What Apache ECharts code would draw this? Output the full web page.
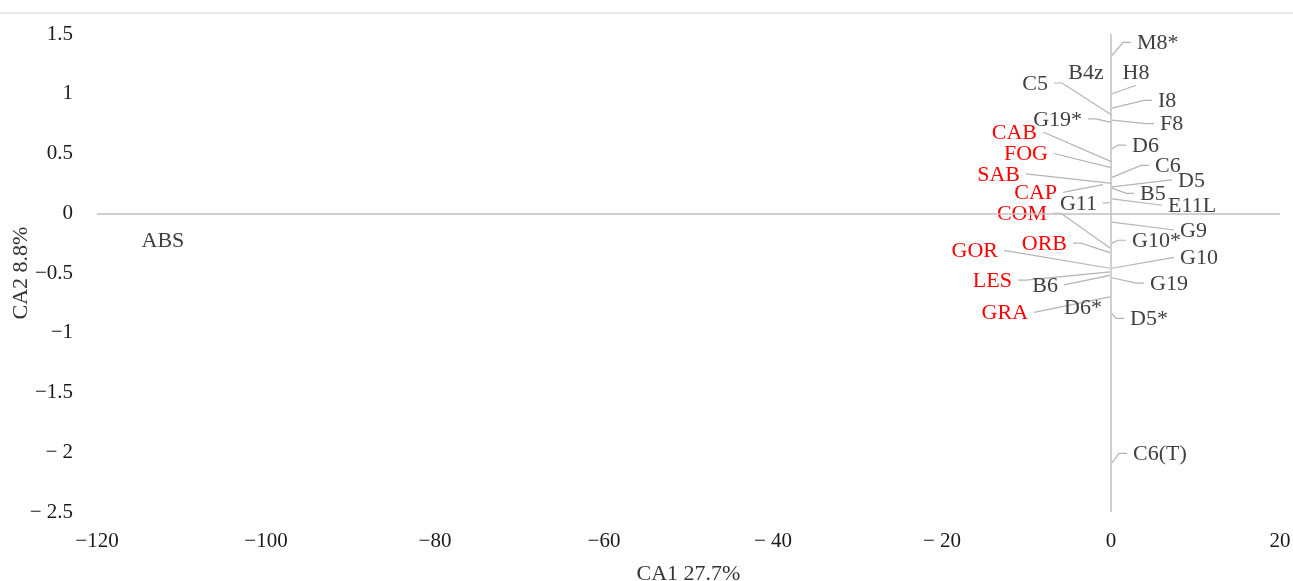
<!DOCTYPE html>
<html>
<head>
<meta charset="utf-8">
<script src="https://cdn.jsdelivr.net/npm/echarts@6/dist/echarts.min.js"></script>
<style>
  html, body { margin: 0; padding: 0; background: #fff; }
  #main { width: 1293px; height: 581px; }
</style>
</head>
<body>
<div id="main"></div>
<script>
// point names + CA scores
var names = ['M8*', 'H8', 'B4z', 'C5', 'I8', 'G19*', 'F8', 'CAB', 'D6', 'FOG', 'C6', 'SAB', 'D5', 'CAP', 'B5', 'E11L',
  'G11', 'COM', 'G9', 'G10*', 'ORB', 'GOR', 'G10', 'LES', 'B6', 'G19', 'GRA', 'D6*', 'D5*', 'C6(T)', 'ABS'];
var ca1 = [0.12, 0.12, -1.0, 0.12, 0.12, 0.0, 0.12, 0.12, 0.12, 0.12, 0.12, 0.12, 0.12, -0.95, 0.12, 0.12,
  -0.12, -0.12, 0.12, 0.12, -0.12, -0.12, 0.12, -0.12, -0.12, 0.12, -0.12, -0.5, 0.12, 0.12, -112];
var ca2 = [1.32, 1.00, 1.10, 0.82, 0.88, 0.76, 0.78, 0.43, 0.54, 0.38, 0.30, 0.25, 0.22, 0.24, 0.21, 0.12,
  0.09, -0.29, -0.075, -0.25, -0.33, -0.46, -0.46, -0.49, -0.52, -0.54, -0.70, -0.78, -0.84, -2.09, -0.2];
// species codes are drawn in red
var redNames = ['CAB', 'FOG', 'SAB', 'CAP', 'COM', 'ORB', 'GOR', 'LES', 'GRA'];

var xTickLabels = ['−120', '−100', '−80', '−60', '− 40', '− 20', '0', '20'];
var yTickLabels = ['− 2.5', '− 2', '−1.5', '−1', '−0.5', '0', '0.5', '1', '1.5'];

// where the data labels sit (axis units) and which side the leader joins
var labelX = [3.08, 2.96, -2.96, -7.46, 5.56, -3.43, 5.80, -8.76, 2.49, -7.46, 5.21, -10.77, 7.93, -6.39, 3.43, 6.75,
  -1.66, -7.57, 8.17, 2.49, -5.21, -13.37, 8.17, -11.72, -6.27, 4.62, -9.82, -3.31, 2.25, 2.60, -112.2];
var labelY = [1.43, 1.18, 1.18, 1.09, 0.945, 0.79, 0.75, 0.68, 0.57, 0.50, 0.40, 0.33, 0.28, 0.175, 0.167, 0.067,
  0.084, 0.0, -0.14, -0.226, -0.25, -0.31, -0.37, -0.56, -0.60, -0.585, -0.83, -0.79, -0.88, -2.01, -0.226];
var labelSide = ['r', 'b', 'n', 'l', 'r', 'l', 'r', 'ls', 'r', 'ls', 'r', 'ls', 'rs', 'ls', 'r', 'rs',
  'ls', 'l', 'rs', 'r', 'l', 'ls', 'rs', 'l', 'ls', 'r', 'ls', 'n', 'r', 'r', 'n'];

var seriesData = names.map(function (n, i) {
  return [ca1[i], ca2[i], labelX[i], labelY[i]];
});

var myChart = echarts.init(document.getElementById('main'));

myChart.setOption({
  animation: false,
  backgroundColor: '#fff',
  grid: {
    left: 97,
    right: 13,
    top: 34,
    bottom: 69,
    outerBoundsMode: 'none'
  },
  graphic: [{
    type: 'line',
    shape: { x1: 0, y1: 13, x2: 1293, y2: 13 },
    style: { stroke: '#e8e8e8', lineWidth: 2 }
  }],
  xAxis: {
    type: 'value',
    min: -120,
    max: 20,
    interval: 20,
    name: 'CA1 27.7%',
    nameLocation: 'middle',
    nameGap: 51,
    nameMoveOverlap: false,
    nameTextStyle: { fontFamily: 'Liberation Serif', fontSize: 22, color: '#333' },
    axisLine: { show: false, onZero: false },
    axisTick: { show: false },
    splitLine: { show: false },
    axisLabel: {
      margin: 19,
      fontFamily: 'Liberation Serif',
      fontSize: 21,
      color: '#1a1a1a',
      formatter: function (v) {
        return xTickLabels[Math.round((v + 120) / 20)];
      }
    }
  },
  yAxis: {
    type: 'value',
    min: -2.5,
    max: 1.5,
    interval: 0.5,
    name: 'CA2 8.8%',
    nameLocation: 'middle',
    nameGap: 65,
    nameMoveOverlap: false,
    nameTextStyle: { fontFamily: 'Liberation Serif', fontSize: 22, color: '#333' },
    axisLine: { show: false, onZero: false },
    axisTick: { show: false },
    splitLine: { show: false },
    axisLabel: {
      margin: 24,
      fontFamily: 'Liberation Serif',
      fontSize: 21,
      color: '#1a1a1a',
      formatter: function (v) {
        return yTickLabels[Math.round((v + 2.5) / 0.5)];
      }
    }
  },
  series: [{
    type: 'custom',
    data: seriesData,
    silent: true,
    renderItem: function (params, api) {
      var i = params.dataIndex;
      var p = api.coord([api.value(0), api.value(1)]);
      var a = api.coord([api.value(2), api.value(3)]);
      var side = labelSide[i];
      var color = redNames.indexOf(names[i]) >= 0 ? '#ff0000' : '#404040';
      var align = side.charAt(0) === 'r' ? 'left' : side.charAt(0) === 'l' ? 'right' : 'center';
      var children = [];
      if (side !== 'n') {
        var end, elbow;
        if (side.charAt(0) === 'r') {
          end = [a[0] - 6, a[1]];
          elbow = side === 'rs' ? end : [a[0] - 14, a[1]];
        } else if (side.charAt(0) === 'l') {
          end = [a[0] + 6, a[1]];
          elbow = side === 'ls' ? end : [a[0] + 14, a[1]];
        } else {
          end = [a[0], a[1] + 13];
          elbow = end;
        }
        children.push({
          type: 'polyline',
          shape: { points: [p, elbow, end] },
          style: { stroke: '#b4b4b4', lineWidth: 1.2, fill: null }
        });
      }
      children.push({
        type: 'text',
        x: a[0],
        y: a[1] + 1,
        style: {
          text: names[i],
          fill: color,
          fontFamily: 'Liberation Serif',
          fontSize: 22,
          align: align,
          verticalAlign: 'middle'
        }
      });
      return { type: 'group', children: children };
    },
    markLine: {
      silent: true,
      symbol: 'none',
      label: { show: false },
      lineStyle: { color: '#c0c0c0', width: 1.5, type: 'solid' },
      data: [{ xAxis: 0 }, { yAxis: 0 }]
    }
  }]
});
</script>
</body>
</html>
